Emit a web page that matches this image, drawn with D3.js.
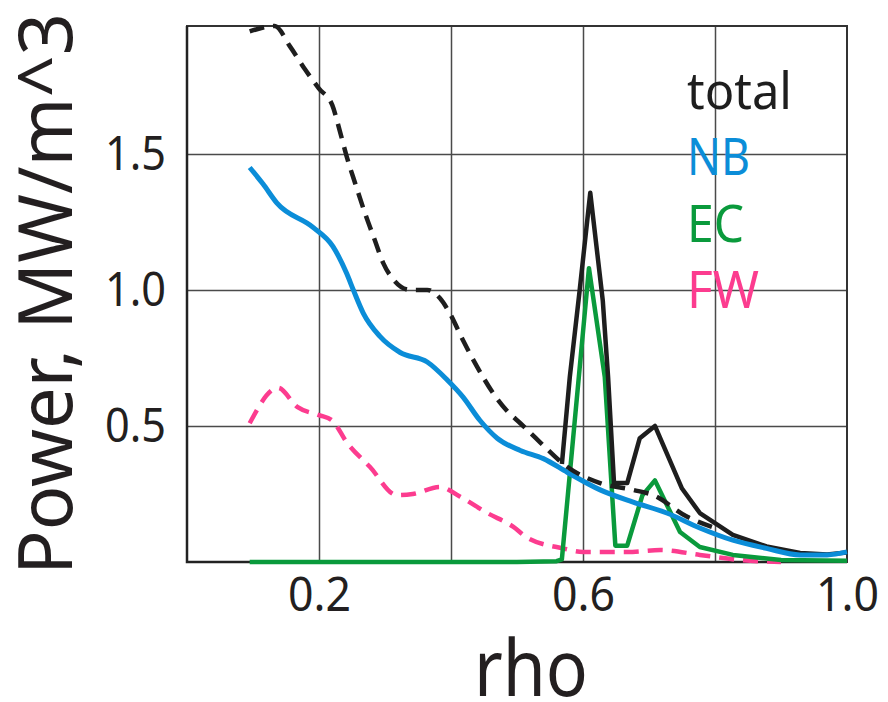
<!DOCTYPE html>
<html lang="en">
<head>
<meta charset="UTF-8">
<title>Power vs rho</title>
<script src="https://d3js.org/d3.v7.min.js"></script>
<style>
    body{ margin:0; background:#fff; }
    text{ font-family: "Noto Sans", "Open Sans", sans-serif; }
</style>
</head>
<body>
<svg id="chart" width="888" height="702"></svg>
<script>
    // ---- data ----
    const totalDashRho = [0.095,0.133,0.156,0.179,0.2,0.22,0.232,0.242,0.255,0.27,0.285,0.297,0.312,0.338,0.364,0.383,0.398,0.418,0.439,0.464,0.485,0.505,0.535,0.576,0.626,0.676,0.706,0.758,0.80];
    const totalDash    = [1.95,1.97,1.895,1.81,1.74,1.68,1.58,1.49,1.39,1.28,1.18,1.10,1.04,1.0,1.0,0.97,0.915,0.816,0.72,0.62,0.555,0.51,0.44,0.35,0.29,0.265,0.246,0.166,0.125];

    const totalRho = [0.568,0.58,0.595,0.611,0.63,0.638,0.647,0.667,0.686,0.709,0.75,0.777,0.827,0.878,0.929,0.97,1.0];
    const total    = [0.36,0.68,1.0,1.357,0.96,0.68,0.29,0.29,0.455,0.50,0.27,0.18,0.10,0.057,0.033,0.028,0.035];

    const nbRho = [0.095,0.115,0.136,0.191,0.221,0.242,0.252,0.267,0.292,0.323,0.364,0.394,0.418,0.444,0.47,0.505,0.54,0.576,0.626,0.676,0.727,0.777,0.827,0.878,0.929,0.97,1.0];
    const nb    = [1.45,1.39,1.32,1.23,1.16,1.06,1.0,0.915,0.83,0.77,0.735,0.67,0.607,0.52,0.455,0.41,0.38,0.33,0.265,0.22,0.18,0.125,0.08,0.05,0.026,0.026,0.037];

    const ecRho = [0.095,0.3,0.5,0.56,0.568,0.609,0.633,0.649,0.667,0.69,0.709,0.747,0.777,0.827,0.9,1.0];
    const ec    = [0,0,0,0.003,0.01,1.08,0.68,0.06,0.06,0.245,0.30,0.11,0.055,0.026,0.007,0.005];

    const fwRho = [0.095,0.138,0.167,0.2,0.22,0.242,0.277,0.318,0.342,0.383,0.414,0.455,0.494,0.515,0.57,0.6,0.667,0.717,0.777,0.838,0.9];
    const fw    = [0.51,0.64,0.57,0.54,0.52,0.44,0.35,0.246,0.25,0.276,0.24,0.18,0.13,0.09,0.05,0.037,0.037,0.044,0.026,0.007,0.0];

    const xTicks = [0.2, 0.6, 1.0];
    const yTicks = [0.5, 1.0, 1.5];
    const xGrid = [0.2, 0.4, 0.6, 0.8];
    const legendNames = ["total", "NB", "EC", "FW"];

    const svg = d3.select("#chart");
    const mLeft = 187, mRight = 847, mTop = 26, mBottom = 562;

    const x = d3.scaleLinear().domain([0, 1]).range([mLeft, mRight]);
    const y = d3.scaleLinear().domain([0, 1.97]).range([mBottom, mTop]);

    // grid
    svg.append("g").attr("transform", `translate(0,${mBottom})`)
        .call(d3.axisBottom(x).tickValues(xGrid).tickSize(-(mBottom - mTop)).tickFormat(""))
        .call(g => g.select(".domain").remove())
        .selectAll("line").attr("stroke", "#4a4a4a").attr("stroke-width", 1.5);
    svg.append("g").attr("transform", `translate(${mLeft},0)`)
        .call(d3.axisLeft(y).tickValues(yTicks).tickSize(-(mRight - mLeft)).tickFormat(""))
        .call(g => g.select(".domain").remove())
        .selectAll("line").attr("stroke", "#4a4a4a").attr("stroke-width", 1.5);

    // frame
    svg.append("rect").attr("x", mLeft).attr("y", mTop)
        .attr("width", mRight - mLeft).attr("height", mBottom - mTop)
        .attr("fill", "none").attr("stroke", "#333").attr("stroke-width", 2);
    svg.append("path").attr("d", `M${mLeft},${mTop}V${mBottom}H${mRight}`)
        .attr("fill", "none").attr("stroke", "#222").attr("stroke-width", 2.5);

    // tick labels
    const xAx = svg.append("g").attr("transform", `translate(0,${mBottom})`)
        .call(d3.axisBottom(x).tickValues(xTicks).tickSize(0).tickPadding(15).tickFormat(d3.format(".1f")));
    xAx.select(".domain").remove();
    xAx.selectAll("text").attr("font-size", 48).attr("fill", "#231f20")
        .attr("font-family", "Noto Sans")
        .attr("textLength", 63).attr("lengthAdjust", "spacingAndGlyphs");

    const yAx = svg.append("g").attr("transform", `translate(${mLeft},0)`)
        .call(d3.axisLeft(y).tickValues(yTicks).tickSize(0).tickPadding(21).tickFormat(d3.format(".1f")));
    yAx.select(".domain").remove();
    yAx.selectAll("text").attr("font-size", 48).attr("fill", "#231f20")
        .attr("font-family", "Noto Sans")
        .attr("textLength", 61).attr("lengthAdjust", "spacingAndGlyphs");

    // axis titles
    svg.append("text").attr("x", 531).attr("y", 696)
        .attr("text-anchor", "middle").attr("font-size", 78).attr("fill", "#231f20")
        .attr("textLength", 114).attr("lengthAdjust", "spacingAndGlyphs")
        .text("rho");
    svg.append("text").attr("transform", "translate(72,575) rotate(-90)")
        .attr("font-size", 74).attr("fill", "#231f20")
        .attr("textLength", 562).attr("lengthAdjust", "spacingAndGlyphs")
        .text("Power, MW/m^3");

    // lines
    function draw(rho, vals, color, width, dash, curve) {
        const pts = rho.map((r, i) => [r, vals[i]]);
        const line = d3.line().x(d => x(d[0])).y(d => y(d[1])).curve(curve);
        svg.append("path").datum(pts)
            .attr("d", line)
            .attr("fill", "none")
            .attr("stroke", color)
            .attr("stroke-width", width)
            .attr("stroke-linejoin", "round")
            .attr("stroke-dasharray", dash);
    }
    const cBlack = "#1e1e1e", cBlue = "#0b8dd8", cGreen = "#0a9a3c", cPink = "#fc3c8f";

    draw(fwRho, fw, cPink, 4.5, "15,9", d3.curveMonotoneX);
    draw(ecRho, ec, cGreen, 4.5, null, d3.curveLinear);
    draw(totalRho, total, cBlack, 4.5, null, d3.curveLinear);
    draw(nbRho, nb, cBlue, 5, null, d3.curveMonotoneX);
    draw(totalDashRho, totalDash, cBlack, 4.5, "15,9", d3.curveMonotoneX);

    // legend
    const legendColors = [cBlack, cBlue, cGreen, cPink];
    const legendLen = [105, 63, 57, 72];
    const legendY = d3.scalePoint().domain(legendNames).range([109, 308]);
    svg.selectAll(".leg").data(legendNames).enter().append("text")
        .attr("class", "leg")
        .attr("x", 687).attr("y", d => legendY(d))
        .attr("font-size", 51)
        .attr("fill", (d, i) => legendColors[i])
        .attr("textLength", (d, i) => legendLen[i]).attr("lengthAdjust", "spacingAndGlyphs")
        .text(d => d);
</script>
</body>
</html>
